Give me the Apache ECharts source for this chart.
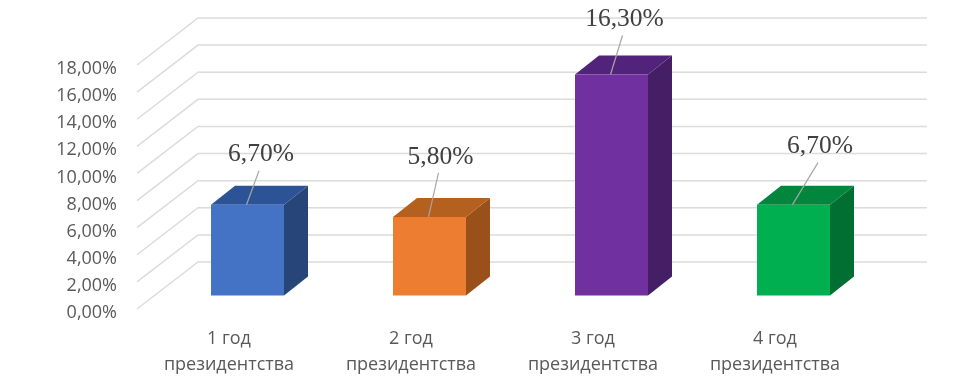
<!DOCTYPE html>
<html>
<head>
<meta charset="utf-8">
<style>html,body{margin:0;padding:0;background:#fff}#c{width:975px;height:391px}</style>
<script src="https://cdn.jsdelivr.net/npm/echarts@6/dist/echarts.min.js"></script>
</head>
<body>
<div id="c"></div>
<script>
const categories = ['1 год\nпрезидентства', '2 год\nпрезидентства', '3 год\nпрезидентства', '4 год\nпрезидентства'];
const values = [6.7, 5.8, 16.3, 6.7];
const yTicks = [0, 2, 4, 6, 8, 10, 12, 14, 16, 18];

const frontColors = ['#4472C4', '#ED7D31', '#7030A0', '#00B050'];
const topColors = ['#2D5397', '#B4601F', '#52237A', '#00873D'];
const sideColors = ['#274579', '#9A5019', '#451F66', '#006F31'];
const labelDx = [13.5, 11, 13, 26.5];
const labelDy = [-50, -60, -55, -58];

const WALL_DX = 61, WALL_DY = 47;
const BAR_W = 73, BAR_DX = 24, BAR_DY = 19;
const BASE_DX = 18.5, BASE_DY = 13.5;

function fmt(v) { return v.toFixed(2).replace('.', ',') + '%'; }

function renderWall(params, api) {
  const v = api.value(0);
  const cs = params.coordSys;
  const p = api.coord([0, v]);
  const x0 = cs.x - 1, y = p[1];
  return {
    type: 'polyline',
    shape: { points: [[x0, y], [x0 + WALL_DX, y - WALL_DY], [cs.x + cs.width + WALL_DX, y - WALL_DY]] },
    style: { fill: 'none', stroke: '#DCDCDC', lineWidth: 1.5 }
  };
}

function renderBar(params, api) {
  const i = params.dataIndex;
  const val = api.value(1);
  const top = api.coord([i, val]);
  const bot = api.coord([i, 0]);
  const cx = top[0] + BASE_DX;
  const l = cx - BAR_W / 2, r = cx + BAR_W / 2;
  const t = top[1] - BASE_DY, b = bot[1] - BASE_DY;
  const lx = cx + labelDx[i], ly = t + labelDy[i];
  return {
    type: 'group',
    children: [
      { type: 'polygon', shape: { points: [[r, t], [r + BAR_DX, t - BAR_DY], [r + BAR_DX, b - BAR_DY], [r, b]] },
        style: { fill: sideColors[i] } },
      { type: 'polygon', shape: { points: [[l, t], [l + BAR_DX, t - BAR_DY], [r + BAR_DX, t - BAR_DY], [r, t]] },
        style: { fill: topColors[i] } },
      { type: 'rect', shape: { x: l, y: t, width: BAR_W, height: b - t },
        style: { fill: frontColors[i] } },
      { type: 'line', shape: { x1: cx - 1, y1: t, x2: lx - 2, y2: ly + 16 },
        style: { stroke: '#A6A6A6', lineWidth: 1.2 } },
      { type: 'text', x: lx, y: ly,
        style: { text: fmt(val), fill: '#404040', font: '25.5px "Liberation Serif"', align: 'center', verticalAlign: 'middle' } }
    ]
  };
}

const chart = echarts.init(document.getElementById('c'), null, { renderer: 'canvas' });
chart.setOption({
  animation: false,
  backgroundColor: '#ffffff',
  grid: { left: 138, top: 65, width: 728, height: 244 },
  xAxis: {
    type: 'category',
    data: categories,
    axisLine: { show: false },
    axisTick: { show: false },
    axisLabel: { color: '#595959', fontFamily: 'Open Sans', fontSize: 18, lineHeight: 26, margin: 17, interval: 0 }
  },
  yAxis: {
    type: 'value', min: 0, max: 18, interval: 2,
    axisLine: { show: false },
    axisTick: { show: false },
    splitLine: { show: false },
    axisLabel: { color: '#595959', fontFamily: 'Open Sans', fontSize: 18, margin: 21, verticalAlign: 'top', lineHeight: 8, formatter: fmt }
  },
  series: [
    { type: 'custom', coordinateSystem: 'cartesian2d', renderItem: renderWall, z: 1, silent: true,
      encode: { y: 0 }, data: yTicks.map(v => [v]) },
    { type: 'custom', coordinateSystem: 'cartesian2d', renderItem: renderBar, z: 2, silent: true,
      encode: { x: 0, y: 1 }, data: values.map((v, i) => [i, v]) }
  ]
});
</script>
</body>
</html>
